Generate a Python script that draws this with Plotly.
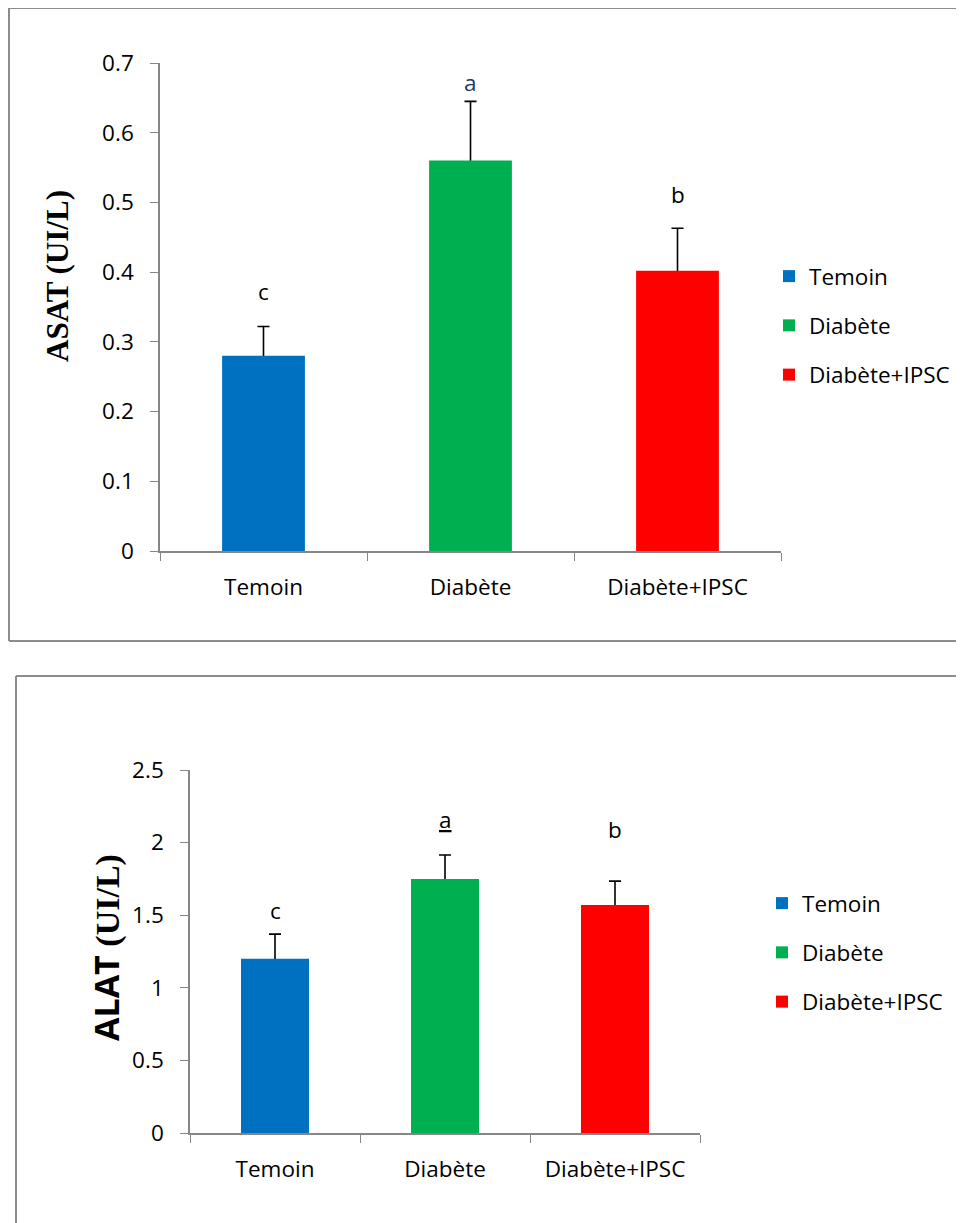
import plotly.graph_objects as go

W, H = 964, 1223
OFF = 8  # page body margin: positions below are in screenshot pixels

categories = ["Temoin", "Diabète", "Diabète+IPSC"]
colors = ["#0070C0", "#00B050", "#FF0000"]

asat_values = [0.28, 0.56, 0.402]
asat_errors = [0.042, 0.085, 0.061]
asat_letters = ["c", "a", "b"]
asat_letter_y = [0.372, 0.672, 0.512]
asat_ticks = [0, 0.1, 0.2, 0.3, 0.4, 0.5, 0.6, 0.7]

alat_values = [1.2, 1.75, 1.57]
alat_errors = [0.17, 0.165, 0.165]
alat_letters = ["c", "<u>a</u>", "b"]
alat_letter_y = [1.53, 2.16, 2.09]
alat_ticks = [0, 0.5, 1, 1.5, 2, 2.5]

SANS = "Open Sans"
SERIF = "Liberation Serif"
AXC = "#868686"
BOXC = "#8c8c8c"
FS = 22.5


def px_x(p):
    return (p - OFF) / W


def px_y(p):
    return 1 - (p - OFF) / H


fig = go.Figure()

panels = [
    (asat_values, asat_errors, "x", "y", "legend", "a"),
    (alat_values, alat_errors, "x2", "y2", "legend2", "b"),
]
for vals, errs, xa, ya, leg, tag in panels:
    # error bars first, so the coloured bars drawn afterwards hide their lower half
    for i, cat in enumerate(categories):
        fig.add_trace(go.Bar(
            x=[cat], y=[vals[i]], width=0.4, showlegend=False, hoverinfo="skip",
            marker=dict(color="rgba(0,0,0,0)", line=dict(width=0)),
            error_y=dict(type="data", array=[errs[i]], color="black",
                         thickness=1.6, width=6),
            xaxis=xa, yaxis=ya, legend=leg,
        ))
    for i, cat in enumerate(categories):
        fig.add_trace(go.Bar(
            x=[cat], y=[vals[i]], name=cat, width=0.4,
            marker=dict(color=colors[i], line=dict(width=0)),
            xaxis=xa, yaxis=ya, legend=leg, legendgroup="%s%d" % (tag, i),
        ))

tickfont = dict(family=SANS, size=FS, color="black")

xcommon = dict(type="category", categoryorder="array", categoryarray=categories,
               range=[-0.5, 2.5], showline=True, linecolor=AXC, linewidth=1.5,
               ticks="outside", tickson="boundaries", ticklen=8, tickcolor=AXC,
               tickwidth=1.3, showgrid=False, zeroline=False, tickfont=tickfont,
               ticklabelstandoff=15, fixedrange=True, automargin=False)
ycommon = dict(showline=True, linecolor=AXC, linewidth=1.5, ticks="outside",
               ticklen=8, tickcolor=AXC, tickwidth=1.3, showgrid=False,
               zeroline=False, tickfont=tickfont, ticklabelstandoff=12,
               fixedrange=True, automargin=False)

annotations = []
for i, cat in enumerate(categories):
    annotations.append(dict(x=cat, y=asat_letter_y[i], xref="x", yref="y",
                            text=asat_letters[i], showarrow=False,
                            xanchor="center", yanchor="middle",
                            font=dict(family=SANS, size=FS,
                                      color="#1F3864" if asat_letters[i] == "a" else "black")))
    annotations.append(dict(x=cat, y=alat_letter_y[i], xref="x2", yref="y2",
                            text=alat_letters[i], showarrow=False,
                            xanchor="center", yanchor="middle",
                            font=dict(family=SANS, size=FS, color="black")))

annotations.append(dict(x=px_x(57), y=px_y(276), xref="paper", yref="paper",
                        xanchor="center", yanchor="middle",
                        text="<b>ASAT (UI/L)</b>", textangle=-90, showarrow=False,
                        font=dict(family=SERIF, size=31, color="black")))
annotations.append(dict(x=px_x(106), y=px_y(948), xref="paper", yref="paper",
                        xanchor="center", yanchor="middle",
                        text="<b><span style='font-family:Open Sans'>ALAT</span> (UI/L)</b>",
                        textangle=-90, showarrow=False,
                        font=dict(family=SERIF, size=34, color="black")))

shapes = [
    # top panel frame
    dict(type="line", xref="paper", yref="paper", x0=px_x(9), x1=1.02, y0=px_y(8), y1=px_y(8),
         line=dict(color=BOXC, width=2)),
    dict(type="line", xref="paper", yref="paper", x0=px_x(9), x1=px_x(9), y0=px_y(8), y1=px_y(641),
         line=dict(color=BOXC, width=2)),
    dict(type="line", xref="paper", yref="paper", x0=px_x(9), x1=1.02, y0=px_y(641), y1=px_y(641),
         line=dict(color=BOXC, width=2)),
    # bottom panel frame
    dict(type="line", xref="paper", yref="paper", x0=px_x(16), x1=1.02, y0=px_y(676), y1=px_y(676),
         line=dict(color=BOXC, width=2)),
    dict(type="line", xref="paper", yref="paper", x0=px_x(16), x1=px_x(16), y0=px_y(676), y1=-0.02,
         line=dict(color=BOXC, width=2)),
]

legfont = dict(family=SANS, size=FS, color="black")

fig.update_layout(
    width=W, height=H,
    margin=dict(l=0, r=0, t=0, b=0, pad=0, autoexpand=False),
    paper_bgcolor="white", plot_bgcolor="white",
    barmode="overlay",
    showlegend=True,
    xaxis=dict(domain=[px_x(160), px_x(781)], anchor="y", **xcommon),
    yaxis=dict(domain=[px_y(551), px_y(63)], anchor="x", range=[0, 0.7],
               tickvals=asat_ticks, ticktext=[str(t) for t in asat_ticks], **ycommon),
    xaxis2=dict(domain=[px_x(190), px_x(700)], anchor="y2", **xcommon),
    yaxis2=dict(domain=[px_y(1133), px_y(770)], anchor="x2", range=[0, 2.5],
                tickvals=alat_ticks, ticktext=[str(t) for t in alat_ticks], **ycommon),
    legend=dict(x=px_x(769), y=px_y(255), xanchor="left", yanchor="top",
                font=legfont, traceorder="grouped", tracegroupgap=17,
                bgcolor="rgba(0,0,0,0)"),
    legend2=dict(x=px_x(762), y=px_y(882), xanchor="left", yanchor="top",
                 font=legfont, traceorder="grouped", tracegroupgap=17,
                 bgcolor="rgba(0,0,0,0)"),
    annotations=annotations,
    shapes=shapes,
)

fig.write_html("out.html")
